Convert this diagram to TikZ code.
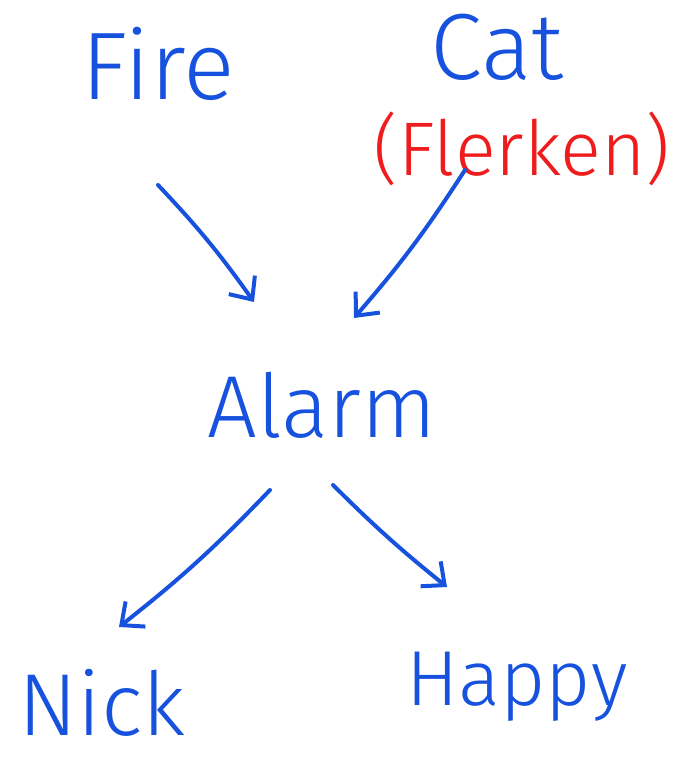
\documentclass[tikz,border=0pt]{standalone}
\usepackage{fontspec}
\usetikzlibrary{arrows.meta}
\newfontfamily\hand{Fira Sans Light}
\definecolor{ink}{RGB}{22,82,222}
\definecolor{redink}{RGB}{238,28,28}
\begin{document}
\begin{tikzpicture}[x=1pt,y=1pt,
  lbl/.style={font=\hand\fontsize{88}{88}\selectfont, text=ink, inner sep=0pt, anchor=base},
  arr/.style={draw=ink, line width=4pt, line cap=round, line join=round,
    -{Straight Barb[length=18pt,width=32pt,line width=4pt]}}]
\useasboundingbox[fill=white] (0,0) rectangle (683,761);
\node[lbl, font=\hand\fontsize{96}{96}\selectfont] (fire) at (158,661) {Fire};
\node[lbl, font=\hand\fontsize{94}{94}\selectfont] (cat) at (497,681) {Cat};
\node[lbl, text=redink, font=\hand\fontsize{76}{76}\selectfont] (flerken) at (522,585) {(Flerken)};
\node[lbl] (alarm) at (322,323) {Alarm};
\node[lbl] (nick) at (102,25) {Nick};
\node[lbl, font=\hand\fontsize{78}{78}\selectfont] (happy) at (517,56) {Happy};
\coordinate (f1) at (158,576);
\coordinate (a1) at (254,459);
\coordinate (c1) at (465,591);
\coordinate (a2) at (354,443);
\coordinate (a3) at (270,271);
\coordinate (n1) at (119,134);
\coordinate (a4) at (333,276);
\coordinate (h1) at (447,174);
\draw[arr] (f1) to[bend left=4] (a1);
\draw[arr] (c1) to[bend left=4] (a2);
\draw[arr] (a3) to[bend left=4] (n1);
\draw[arr] (a4) to[bend right=3] (h1);
\end{tikzpicture}
\end{document}
